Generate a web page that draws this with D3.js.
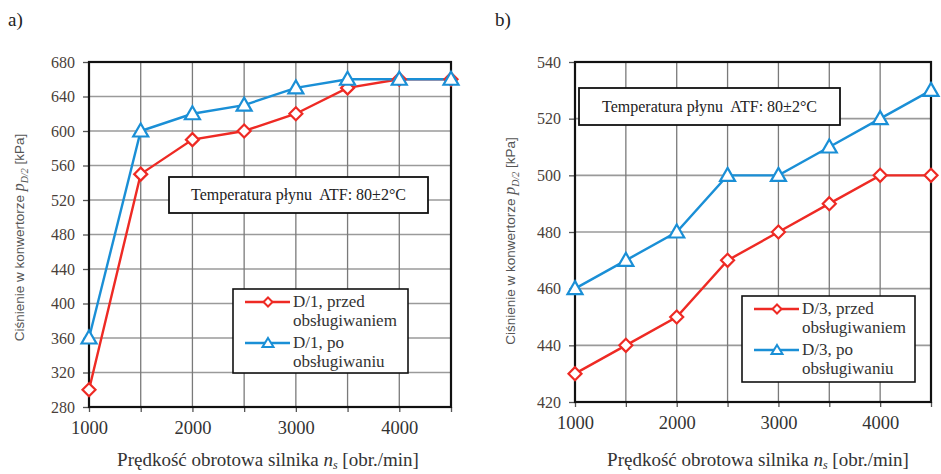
<!DOCTYPE html>
<html>
<head>
<meta charset="utf-8">
<script src="https://cdn.jsdelivr.net/npm/d3@7/dist/d3.min.js"></script>
<style>
  html, body { margin: 0; padding: 0; background: #fff; }
  svg { display: block; }
</style>
</head>
<body>
<svg id="chart" width="941" height="474"></svg>
<script>
// Shared x values (engine speed, obr./min)
const speeds = [1000, 1500, 2000, 2500, 3000, 3500, 4000, 4500];
const xTickLabels = [1000, 2000, 3000, 4000];

// Panel a) D/1
const d1Before = [300, 550, 590, 600, 620, 650, 660, 660];
const d1After = [360, 600, 620, 630, 650, 660, 660, 660];
const d1YTicks = [280, 320, 360, 400, 440, 480, 520, 560, 600, 640, 680];

// Panel b) D/3
const d3Before = [430, 440, 450, 470, 480, 490, 500, 500];
const d3After = [460, 470, 480, 500, 500, 510, 520, 530];
const d3YTicks = [420, 440, 460, 480, 500, 520, 540];

const RED = '#ee2a24';
const BLUE = '#1a8fd6';
const serif = 'Liberation Serif, Times New Roman, serif';

const svg = d3.select('#chart');

function drawPanel(opt) {
  const g = svg.append('g');
  const x = d3.scaleLinear().domain([1000, 4500]).range([opt.left, opt.right]);
  const y = d3.scaleLinear()
    .domain([opt.yTicks[0], opt.yTicks[opt.yTicks.length - 1]])
    .range([opt.bottom, opt.top]);

  // grid
  g.append('g')
    .selectAll('line')
    .data(opt.yTicks)
    .enter()
    .append('line')
    .attr('x1', opt.left).attr('x2', opt.right)
    .attr('y1', (d) => y(d)).attr('y2', (d) => y(d))
    .attr('stroke', '#9a9a9a')
    .attr('stroke-width', 1.6);

  g.append('g')
    .selectAll('line')
    .data(speeds)
    .enter()
    .append('line')
    .attr('x1', (d) => x(d)).attr('x2', (d) => x(d))
    .attr('y1', opt.top).attr('y2', opt.bottom)
    .attr('stroke', '#7a7a7a')
    .attr('stroke-width', 1.3);

  // axes (ticks outside)
  const yAxis = d3.axisLeft(y).tickValues(opt.yTicks).tickSize(6).tickPadding(8);
  const ya = g.append('g').attr('transform', `translate(${opt.left},0)`).call(yAxis);
  ya.attr('font-family', serif);
  ya.select('.domain').remove();
  ya.selectAll('line').attr('stroke', '#555').attr('stroke-width', 1.3);
  ya.selectAll('text')
    .attr('font-family', serif).attr('font-size', 16).attr('fill', '#4a3f3a');

  const xAxis = d3.axisBottom(x).tickValues(speeds).tickSize(5)
    .tickFormat((d) => (xTickLabels.includes(d) ? d : ''));
  const xa = g.append('g').attr('transform', `translate(0,${opt.bottom})`).call(xAxis);
  xa.attr('font-family', serif);
  xa.select('.domain').remove();
  xa.selectAll('line').attr('stroke', '#555').attr('stroke-width', 1.3);
  xa.selectAll('text')
    .attr('font-family', serif).attr('font-size', 18.5).attr('fill', '#333')
    .attr('dy', '1.05em');

  // frame
  g.append('rect')
    .attr('x', opt.left).attr('y', opt.top)
    .attr('width', opt.right - opt.left).attr('height', opt.bottom - opt.top)
    .attr('fill', 'none').attr('stroke', '#111').attr('stroke-width', 2.2);

  // temperature box
  const tb = opt.tempBox;
  g.append('rect')
    .attr('x', tb.x).attr('y', tb.y).attr('width', tb.w).attr('height', tb.h)
    .attr('fill', '#fff').attr('stroke', '#111').attr('stroke-width', 1.8);
  g.append('text')
    .attr('x', tb.x + tb.w / 2).attr('y', tb.y + tb.h / 2 + 5)
    .attr('text-anchor', 'middle')
    .attr('font-family', serif).attr('font-size', 16).attr('fill', '#222')
    .attr('xml:space', 'preserve')
    .text('Temperatura płynu  ATF: 80±2°C');

  // series
  const line = d3.line().x((d, i) => x(speeds[i])).y((d) => y(d));
  const series = [
    { values: opt.before, color: RED, shape: 'diamond' },
    { values: opt.after, color: BLUE, shape: 'triangle' },
  ];
  const shapePath = (shape) =>
    shape === 'diamond'
      ? 'M0,-6.5L6.5,0L0,6.5L-6.5,0Z'
      : 'M0,-7.5L7.5,5.5L-7.5,5.5Z';

  series.forEach((s) => {
    g.append('path')
      .datum(s.values)
      .attr('d', line)
      .attr('fill', 'none')
      .attr('stroke', s.color)
      .attr('stroke-width', 2.4);
  });
  series.forEach((s) => {
    g.append('g')
      .selectAll('path')
      .data(s.values)
      .enter()
      .append('path')
      .attr('transform', (d, i) => `translate(${x(speeds[i])},${y(d)})`)
      .attr('d', shapePath(s.shape))
      .attr('fill', '#fff')
      .attr('stroke', s.color)
      .attr('stroke-width', 2.2);
  });

  // legend
  const lg = opt.legend;
  g.append('rect')
    .attr('x', lg.x).attr('y', lg.y).attr('width', lg.w).attr('height', lg.h)
    .attr('fill', '#fff').attr('stroke', '#111').attr('stroke-width', 1.6);
  const entries = [
    { label: [`${opt.name}, przed`, 'obsługiwaniem'], color: RED, shape: 'diamond' },
    { label: [`${opt.name}, po`, 'obsługiwaniu'], color: BLUE, shape: 'triangle' },
  ];
  entries.forEach((e, i) => {
    const cy = lg.y + 13 + i * 41;
    g.append('line')
      .attr('x1', lg.x + 12).attr('x2', lg.x + 57)
      .attr('y1', cy).attr('y2', cy)
      .attr('stroke', e.color).attr('stroke-width', 2.4);
    g.append('path')
      .attr('transform', `translate(${lg.x + 35},${cy})`)
      .attr('d', e.shape === 'diamond' ? 'M0,-4.5L4.5,0L0,4.5L-4.5,0Z' : 'M0,-5L5.5,4L-5.5,4Z')
      .attr('fill', '#fff').attr('stroke', e.color).attr('stroke-width', 2);
    e.label.forEach((t, j) => {
      g.append('text')
        .attr('x', lg.x + 60).attr('y', cy + 5 + j * 19)
        .attr('font-family', serif).attr('font-size', 17).attr('fill', '#333')
        .text(t);
    });
  });

  // axis titles
  const xt = g.append('text')
    .attr('x', (opt.left + opt.right) / 2 + opt.xTitleShift).attr('y', 466)
    .attr('text-anchor', 'middle')
    .attr('font-family', serif).attr('font-size', 19).attr('fill', '#333');
  xt.append('tspan').text('Prędkość obrotowa silnika ');
  xt.append('tspan').attr('font-style', 'italic').text('n');
  xt.append('tspan').attr('font-style', 'italic').attr('font-size', 12).attr('dy', 3).text('s');
  xt.append('tspan').attr('dy', -3).text(' [obr./min]');

  const yt = g.append('text')
    .attr('transform', `translate(${opt.yTitleX},${(opt.top + opt.bottom) / 2 + opt.yTitleShift}) rotate(-90)`)
    .attr('text-anchor', 'middle')
    .attr('font-family', 'Liberation Sans, Arial, sans-serif')
    .attr('font-size', 13.5).attr('fill', '#555');
  yt.append('tspan').text('Ciśnienie w konwertorze ');
  yt.append('tspan').attr('font-family', serif).attr('font-style', 'italic').attr('font-size', 16).text('p');
  yt.append('tspan').attr('font-family', serif).attr('font-style', 'italic').attr('font-size', 10).attr('dy', 4).text('D/2');
  yt.append('tspan').attr('dy', -4).text(' [kPa]');

  // panel tag
  svg.append('text')
    .attr('x', opt.tagX).attr('y', 26)
    .attr('font-family', serif).attr('font-size', 19).attr('fill', '#222')
    .text(opt.tag);
}

drawPanel({
  tag: 'a)', tagX: 8, name: 'D/1',
  left: 89, right: 451, top: 62, bottom: 407,
  yTicks: d1YTicks, before: d1Before, after: d1After,
  tempBox: { x: 169, y: 177, w: 259, h: 36 },
  legend: { x: 233, y: 289, w: 175, h: 84 },
  xTitleShift: -2, yTitleX: 24, yTitleShift: 3,
});

drawPanel({
  tag: 'b)', tagX: 495, name: 'D/3',
  left: 575, right: 931, top: 62, bottom: 402,
  yTicks: d3YTicks, before: d3Before, after: d3After,
  tempBox: { x: 579, y: 88, w: 261, h: 37 },
  legend: { x: 742, y: 296, w: 173, h: 86 },
  xTitleShift: 5, yTitleX: 515, yTitleShift: 9,
});
</script>
</body>
</html>
